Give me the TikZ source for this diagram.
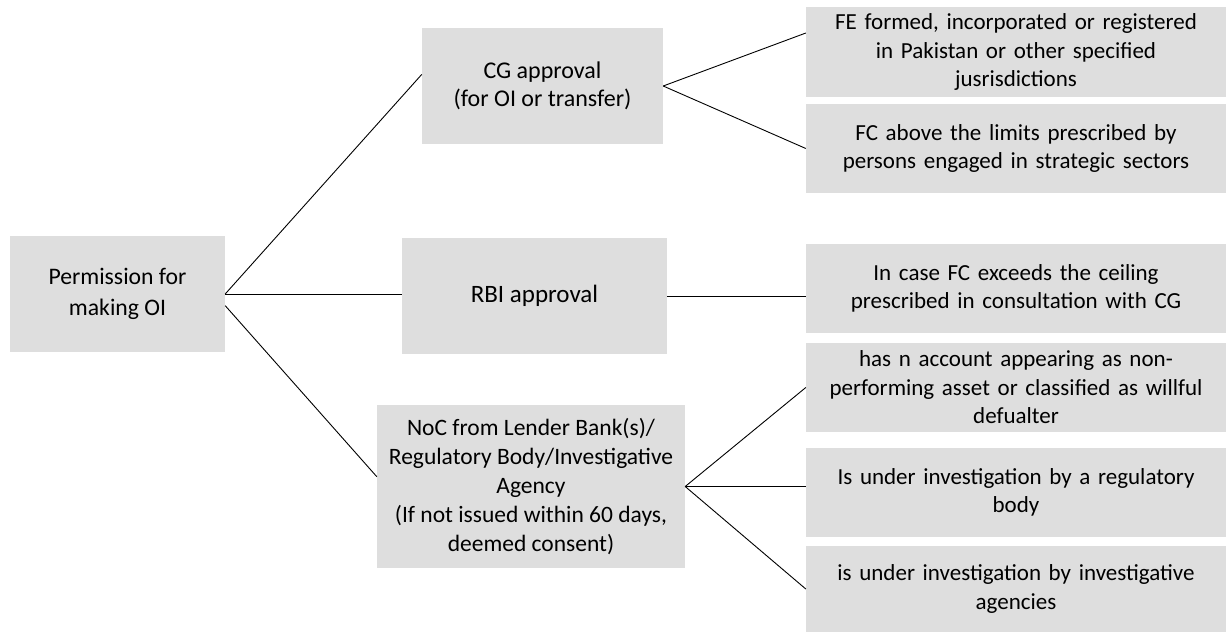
\documentclass[tikz,border=0pt]{standalone}
\usepackage{fontspec}
\setmainfont{Carlito}
\usetikzlibrary{calc}
\definecolor{boxgray}{RGB}{222,222,222}
\tikzset{
  box/.style={fill=boxgray, draw=none, align=center, inner sep=2pt, text=black},
  rbox/.style={box, minimum width=420pt, text width=414pt, font=\fontsize{23}{28.5}\selectfont},
  conn/.style={draw=black, line width=0.9pt}
}
\begin{document}
\begin{tikzpicture}[x=1pt,y=-1pt]
\useasboundingbox (0,0) rectangle (1227,632);
\node[box, minimum width=215pt, minimum height=116pt, font=\fontsize{23.7}{31}\selectfont] (perm) at (117.5,294) {Permission for\\making OI};
\node[box, minimum width=241pt, minimum height=116pt, font=\fontsize{24}{28}\selectfont] (cg) at (542.5,86) {CG approval\\(for OI or transfer)};
\node[box, minimum width=265pt, minimum height=116pt, font=\fontsize{25}{27}\selectfont] (rbi) at (534.5,296) {RBI approval};
\node[box, minimum width=308pt, minimum height=163pt, font=\fontsize{23.5}{29}\selectfont] (noc) at (531,486.5) {NoC from Lender Bank(s)/\\Regulatory Body/Investigative\\Agency\\(If not issued within 60 days,\\deemed consent)};
\node[rbox, minimum height=90pt] (fe) at (1016,52) {FE formed, incorporated or registered\\in Pakistan or other specified\\jusrisdictions};
\node[rbox, minimum height=89pt] (fc) at (1016,148.5) {FC above the limits prescribed by\\persons engaged in strategic sectors};
\node[rbox, minimum height=89pt] (incase) at (1016,288.5) {In case FC exceeds the ceiling\\prescribed in consultation with CG};
\node[rbox, minimum height=89pt] (hasn) at (1016,387.5) {has n account appearing as non-\\performing asset or classified as willful\\defualter};
\node[rbox, minimum height=89pt] (isreg) at (1016,492.5) {Is under investigation by a regulatory\\body};
\node[rbox, minimum height=86pt] (isinv) at (1016,589) {is under investigation by investigative\\agencies};
% connectors
\draw[conn] (perm.east) -- ($(cg.north west)!0.4!(cg.south west)$);
\draw[conn] (perm.east) -- (perm.east -| rbi.west);
\draw[conn] ($(perm.north east)!0.6!(perm.south east)$) -- ($(noc.north west)!0.44!(noc.south west)$);
\draw[conn] (cg.east) -- ($(fe.north west)!0.29!(fe.south west)$);
\draw[conn] (cg.east) -- (fc.west);
\draw[conn] (rbi.east) -- (rbi.east -| incase.west);
\draw[conn] (noc.east) -- (hasn.west);
\draw[conn] (noc.east) -- (noc.east -| isreg.west);
\draw[conn] (noc.east) -- (isinv.west);
\end{tikzpicture}
\end{document}
